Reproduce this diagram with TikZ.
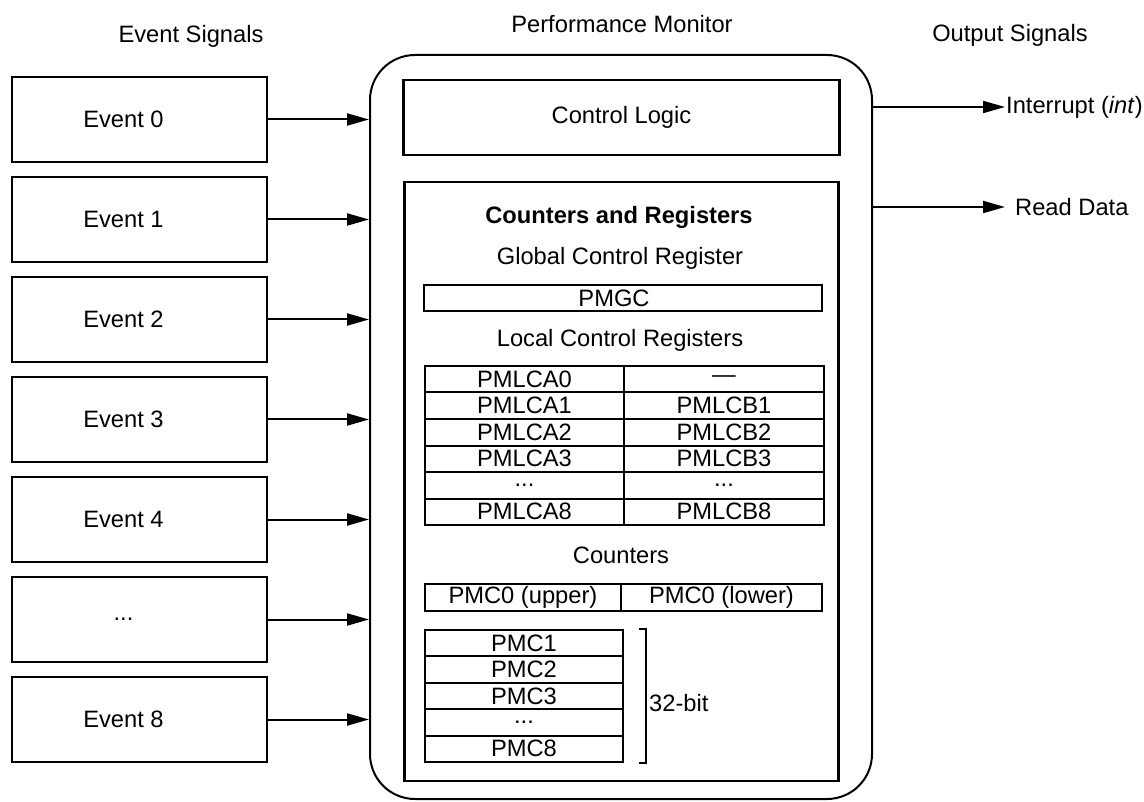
\documentclass[tikz,border=0pt]{standalone}
\usepackage{fontspec}
\setmainfont{Liberation Sans}
\usetikzlibrary{arrows.meta,calc,positioning}
\newcommand{\skipdots}{...}

\tikzset{
  evbox/.style={draw, line width=2.5pt, minimum width=255pt, minimum height=85pt, inner sep=0pt},
  regcell/.style={draw, line width=2pt, inner sep=0pt, minimum height=26.5pt},
  sig/.style={line width=2pt, -{Triangle[length=22pt,width=12pt]}},
}

\begin{document}
\begin{tikzpicture}[x=1pt, y=-1pt, font=\fontsize{23.7}{28}\selectfont]
        \useasboundingbox (0,0) rectangle (1144,802);
        % column titles
        \node (evtitle) at (191,36) {Event Signals};
        \node (pmtitle) at (622,24) {Performance Monitor};
        \node (outtitle) at (1010,35) {Output Signals};
        % performance monitor outline
        \node[draw, line width=2pt, rounded corners=45pt, minimum width=502pt, minimum height=744pt, inner sep=0pt] (mon) at (621,427) {};
        \node[draw, line width=2.5pt, minimum width=436pt, minimum height=75pt, inner sep=0pt] (ctrl) at (621.5,117.5) {Control Logic};
        \node[draw, line width=2.5pt, minimum width=434pt, minimum height=599pt, inner sep=0pt] (regs) at (621.5,481.5) {};
        % event inputs
        \foreach \lbl [count=\i from 0] in {Event 0, Event 1, Event 2, Event 3, Event 4, \skipdots, Event 8} {
          \node[evbox] (ev\i) at (139.5,119.5+100*\i) {};
          \node (evlbl\i) at ($(ev\i.center)+(-16,0)$) {\lbl};
          \draw[sig] (ev\i.east) -- (ev\i.east -| mon.west);
        }
        % outputs
        \node[anchor=west, inner sep=1pt] (intr) at (1005,107) {Interrupt (\textit{int})};
        \draw[sig] (intr.west -| mon.east) -- (intr.west);
        \node[anchor=west, inner xsep=10pt, inner ysep=0pt] (rdata) at (1005,207) {Read Data};
        \draw[sig] (rdata.west -| mon.east) -- (rdata.west);
        % counters and registers
        \node[font=\fontsize{23.7}{28}\selectfont\bfseries] (crtitle) at (619,217) {Counters and Registers};
        \node (gctitle) at (620,258) {Global Control Register};
        \node[regcell, minimum width=398pt, minimum height=26pt] (pmgc) at (623,298) {};
        \node (pmgclbl) at ($(pmgc.center)+(-9,0)$) {PMGC};
        \node (lctitle) at (620,340) {Local Control Registers};
        \foreach \a/\b [count=\i from 0] in {PMLCA0/—, PMLCA1/PMLCB1, PMLCA2/PMLCB2, PMLCA3/PMLCB3, \skipdots/\skipdots, PMLCA8/PMLCB8} {
          \node[regcell, minimum width=199pt] (lca\i) at (524.5,379.25+26.5*\i) {\a};
          \node[regcell, minimum width=200pt] (lcb\i) at (724,379.25+26.5*\i) {\b};
        }
        \node (cntitle) at (621,555) {Counters};
        \node[regcell, minimum width=196pt, minimum height=27pt] (pmcup) at (523,597.5) {PMC0 (upper)};
        \node[regcell, minimum width=201pt, minimum height=27pt] (pmclo) at (721.5,597.5) {PMC0 (lower)};
        \foreach \lbl [count=\i from 0] in {PMC1, PMC2, PMC3, \skipdots, PMC8}
          \node[regcell, minimum width=198pt, minimum height=26.4pt] (pmc\i) at (524,643.2+26.4*\i) {\lbl};
        % 32-bit bracket
        \coordinate (brtop) at ($(pmc0.north east)+(15,0)$);
        \coordinate (brbot) at ($(pmc4.south east)+(15,0)$);
        \draw[line width=1.5pt] (brtop) -- ++(7,0) |- (brbot);
        \node[anchor=west, inner sep=1pt] (bits) at ($(brtop)!0.55!(brbot)+(9,0)$) {32-bit};
\end{tikzpicture}
\end{document}
